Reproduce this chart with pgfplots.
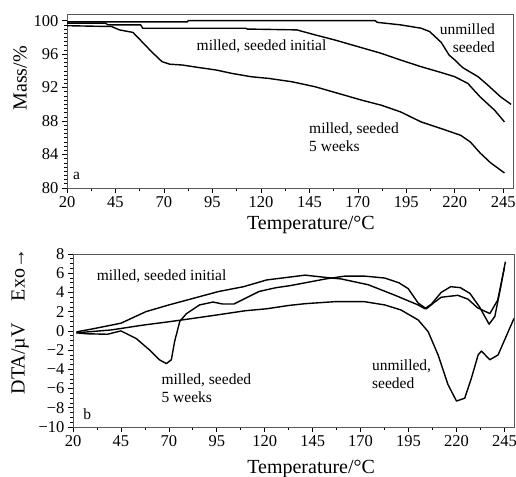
\documentclass[border=0pt]{standalone}
\usepackage{pgfplots}
\pgfplotsset{compat=1.18}
\usepackage{fontspec}
\setmainfont{Liberation Serif}
\tikzset{ann/.style={font=\fontsize{15.5}{18}\selectfont, inner sep=0pt}}
\begin{document}
\begin{tikzpicture}
\useasboundingbox (0,0) rectangle (516pt,476pt);
\pgfplotsset{
 myaxis/.style={
  scale only axis,
  anchor=south west,
  xmin=20, xmax=250,
  xtick={20,45,...,245},
  minor x tick num=1,
  tick pos=left,
  tick align=outside,
  major tick length=5pt,
  minor tick length=3pt,
  every tick/.style={black, line width=0.7pt},
  axis line style={black!65, line width=0.8pt},
  tick label style={font=\fontsize{16.5}{18}\selectfont},
  label style={font=\fontsize{20}{22}\selectfont},
  /pgf/number format/assume math mode=true,
  every axis plot post/.append style={black, solid, line width=1.4pt, line join=round, mark=none},
 }
}
% ---------------- panel a ----------------
\begin{axis}[myaxis,
  at={(67pt,288pt)}, width=446pt, height=174pt,
  ymin=80, ymax=100.8,
  ytick={80,84,...,100},
  minor y tick num=7,
  xlabel={Temperature/°C},
  ylabel={Mass/\%},
  xlabel style={at={(axis description cs:0.547,0)}, anchor=base, yshift=-42pt},
  ylabel style={at={(axis description cs:-0.105,0.63)}, anchor=center},
]
\addplot coordinates {(20,99.85) (40,99.85) (82,99.85) (82.5,100.0) (179,100.0) (180,99.8) (192,99.5) (202.6,99.1) (207,98.7) (213,97.4) (217,95.9) (220,95.3) (224,94.4) (232,93.3) (237,92.3) (243.6,90.9) (249,90.0)};
\addplot coordinates {(20,99.7) (40,99.7) (41,99.5) (58,99.5) (59,99.1) (112,99.1) (113,99.0) (138.5,98.9) (148,98.3) (158,97.7) (170,96.9) (182,96.1) (192,95.3) (202.6,94.5) (213,93.8) (220,93.3) (226.7,92.5) (233,90.9) (240.5,89.3) (245.6,87.9)};
\addplot coordinates {(20,99.4) (43,99.3) (47,98.9) (54,98.6) (59,97.4) (64,96.2) (69,95.1) (73,94.8) (79.5,94.7) (88,94.4) (97,94.1) (105,93.7) (115,93.3) (124,93.1) (136,92.7) (148,92.1) (160,91.3) (172,90.5) (182,89.9) (192,89.1) (202.6,87.9) (213,87.1) (223,86.3) (228,85.5) (233,84.2) (238.5,83.0) (245.6,81.8)};
\node[ann, anchor=west] at (axis cs:86.8,96.9) {milled, seeded initial};
\node[ann, anchor=east, align=right] at (axis cs:240.8,97.85) {unmilled\\seeded};
\node[ann, anchor=west, align=left] at (axis cs:144.8,86.05) {milled, seeded\\5 weeks};
\node[ann, anchor=west] at (axis cs:23.1,81.4) {a};
\end{axis}
% ---------------- panel b ----------------
\begin{axis}[myaxis,
  at={(73pt,49pt)}, width=441pt, height=173pt,
  ymin=-10, ymax=8,
  ytick={-10,-8,...,8},
  yticklabels={−10,−8,−6,−4,−2,0,2,4,6,8},
  minor y tick num=3,
  xlabel={Temperature/°C},
  ylabel={DTA/µV\hspace{1.1em}Exo→},
  xlabel style={at={(axis description cs:0.54,0)}, anchor=base, yshift=-46pt},
  ylabel style={at={(axis description cs:-0.12,0.61)}, anchor=center},
]
\addplot coordinates {(21.8,-0.1) (30,0.2) (45,0.8) (58,2.0) (70,2.7) (83,3.4) (96,4.1) (109,4.6) (121,5.3) (133,5.6) (141,5.8) (150,5.6) (160,5.4) (174,4.8) (188,3.7) (200,2.7) (203.5,2.3) (207,2.8) (212,4.0) (217,4.6) (222,4.5) (227,3.9) (232,2.5) (237,0.7) (240,1.5) (243,4.5) (245.5,7.2)};
\addplot coordinates {(21.8,-0.2) (27,-0.3) (38,-0.35) (45,0.0) (53,-0.8) (60,-2.0) (65,-3.0) (68.7,-3.4) (71.3,-3.0) (73,-1.1) (75.7,1.0) (79.2,1.8) (86,2.7) (93,3.0) (98,2.8) (104,2.8) (110,3.4) (117,4.1) (126,4.5) (133,4.7) (141,5.0) (151.6,5.4) (161.7,5.7) (172,5.7) (182.6,5.5) (190,5.0) (194.8,4.4) (200,2.9) (204.3,2.3) (208,2.9) (212,3.5) (220.7,3.7) (226,3.3) (231,2.4) (237.4,1.8) (241.5,3.2) (245,6.6)};
\addplot coordinates {(21.8,-0.2) (40,0.1) (56.5,0.6) (70.4,0.96) (82.6,1.3) (96.5,1.7) (110,2.1) (121,2.3) (132.7,2.65) (141,2.83) (156.5,3.04) (172,3.04) (182.6,2.7) (191,2.18) (200,1.14) (205.2,-0.07) (210.4,-2.5) (215.6,-5.6) (220,-7.3) (224.3,-7.0) (227.8,-4.9) (231.3,-2.5) (233,-2.1) (237.4,-3.0) (241.7,-2.5) (247,-0.07) (250,1.3)};
\node[ann, anchor=west] at (axis cs:32.3,5.64) {milled, seeded initial};
\node[ann, anchor=west, align=left] at (axis cs:66.1,-5.95) {milled, seeded\\5 weeks};
\node[ann, anchor=west, align=left] at (axis cs:175.9,-4.55) {unmilled,\\seeded};
\node[ann, anchor=west] at (axis cs:25.3,-8.7) {b};
\end{axis}
\end{tikzpicture}
\end{document}
